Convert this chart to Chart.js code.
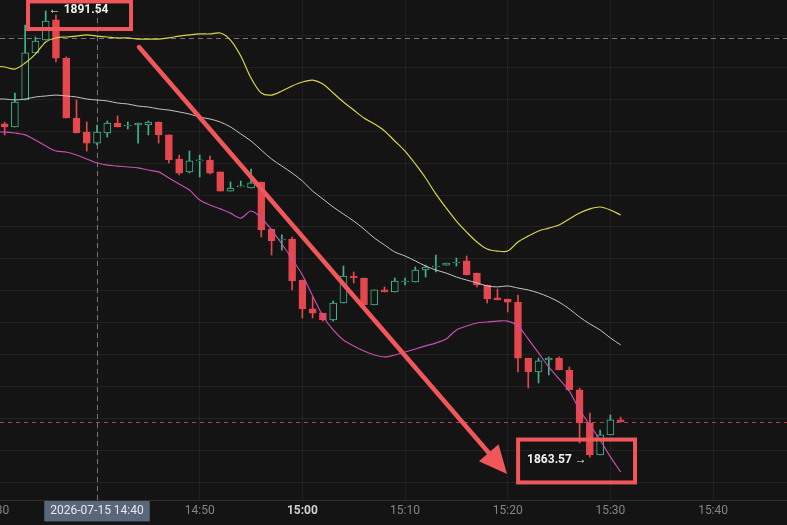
<!DOCTYPE html>
<html>
<head>
<meta charset="utf-8">
<script src="https://cdn.jsdelivr.net/npm/chart.js@4.4.1/dist/chart.umd.min.js"></script>
<style>
  html, body { margin: 0; padding: 0; background: #141414; }
  #wrap { width: 787px; height: 525px; position: relative; }
</style>
</head>
<body>
<div id="wrap"><canvas id="candleChart"></canvas></div>
<script>
// one candle per minute, x = minutes after 14:00
const minutes = [31,32,33,34,35,36,37,38,39,40,41,42,43,44,45,46,47,48,49,50,51,52,53,54,55,56,57,58,59,60,
  61,62,63,64,65,66,67,68,69,70,71,72,73,74,75,76,77,78,79,80,81,82,83,84,85,86,87,88,89,90,91];
const opens = [1884.46,1884.27,1885.96,1888.91,1889.72,1890.98,1888.59,1884.83,1883.95,1883.26,1883.89,1884.52,1884.33,1884.39,1884.39,
  1884.58,1883.77,1882.26,1881.45,1882.14,1882.20,1881.45,1880.25,1880.51,1880.44,1880.82,1877.87,1877.18,1877.24,1874.67,
  1872.86,1872.60,1872.17,1873.23,1874.92,1874.80,1873.11,1874.05,1873.92,1874.55,1874.55,1875.30,1875.49,1875.61,1875.74,
  1875.87,1875.11,1874.36,1873.55,1873.48,1873.29,1869.78,1868.91,1869.66,1869.78,1869.03,1867.78,1865.71,1863.70,1864.96,1865.90];
const highs = [1884.58,1886.40,1890.66,1889.91,1891.54,1891.29,1888.66,1885.96,1884.58,1884.39,1884.64,1884.96,1884.58,1884.52,1884.64,
  1884.58,1883.77,1882.51,1882.76,1882.51,1882.45,1881.45,1880.82,1880.88,1881.63,1880.82,1877.87,1877.50,1877.37,1874.67,
  1873.61,1872.60,1873.36,1875.55,1875.18,1874.80,1874.05,1874.24,1874.80,1874.80,1875.49,1875.61,1876.24,1875.74,1876.05,
  1876.18,1875.11,1874.36,1874.11,1873.48,1873.73,1869.78,1869.78,1869.85,1869.85,1869.22,1867.90,1866.33,1865.27,1866.21,1866.08];
const lows = [1883.77,1884.27,1885.96,1888.91,1889.72,1888.34,1884.83,1883.89,1882.76,1883.14,1883.64,1884.27,1884.14,1883.26,1883.77,
  1883.26,1882.01,1881.26,1881.38,1881.13,1881.32,1880.25,1880.25,1880.51,1880.44,1877.37,1876.24,1876.55,1874.05,1872.29,
  1872.29,1872.10,1872.10,1873.23,1874.49,1873.11,1873.11,1873.92,1873.92,1874.36,1874.55,1874.86,1875.18,1875.61,1875.55,
  1874.99,1874.24,1873.23,1873.42,1872.67,1868.91,1867.90,1868.22,1868.72,1869.03,1867.78,1864.45,1863.57,1863.70,1864.96,1865.77];
const closes = [1884.27,1885.83,1888.91,1889.66,1890.91,1888.59,1884.83,1883.89,1883.26,1883.95,1884.52,1884.27,1884.39,1884.52,1884.58,
  1883.77,1882.20,1881.38,1882.14,1882.20,1881.38,1880.25,1880.44,1880.57,1880.76,1877.81,1877.12,1877.24,1874.61,1872.86,
  1872.60,1872.17,1873.23,1874.92,1874.80,1873.11,1874.05,1873.92,1874.61,1874.61,1875.30,1875.49,1875.55,1875.74,1875.80,
  1874.99,1874.36,1873.48,1873.42,1873.29,1869.78,1868.91,1869.60,1869.78,1869.03,1867.78,1865.71,1863.70,1864.96,1865.90,1865.77];

// band lines start one minute earlier (14:30)
const bandMinutes = [30].concat(minutes);
const upperBand = [1888.09,1888.03,1887.90,1888.28,1888.84,1889.60,1889.85,1889.91,1889.97,1890.04,1889.97,1889.91,1889.85,1889.85,1889.78,
  1889.78,1889.78,1889.85,1889.97,1890.04,1890.10,1890.10,1890.16,1889.72,1888.72,1887.34,1886.40,1886.27,1886.52,1886.84,
  1887.09,1887.21,1886.96,1886.40,1885.83,1885.33,1884.83,1884.46,1884.02,1883.39,1882.76,1881.95,1881.07,1880.07,1879.19,
  1878.37,1877.68,1877.06,1876.62,1876.49,1876.49,1877.06,1877.43,1877.75,1877.93,1878.12,1878.50,1878.87,1879.13,1879.25,1879.06,1878.75];
const middleBand = [1886.02,1886.02,1885.96,1886.02,1886.15,1886.21,1886.27,1886.21,1886.15,1886.02,1885.96,1885.90,1885.77,1885.71,1885.58,
  1885.52,1885.40,1885.33,1885.21,1885.08,1884.89,1884.77,1884.58,1884.27,1883.83,1883.39,1882.82,1882.26,1881.82,1881.38,
  1880.88,1880.25,1879.75,1879.25,1878.81,1878.37,1877.87,1877.31,1876.87,1876.43,1876.18,1875.87,1875.55,1875.30,1875.11,
  1874.86,1874.67,1874.49,1874.30,1874.24,1874.30,1874.17,1874.05,1873.86,1873.61,1873.29,1872.86,1872.35,1871.92,1871.54,1871.04,1870.60];
const lowerBand = [1883.95,1883.95,1883.89,1883.77,1883.45,1883.08,1882.76,1882.70,1882.51,1882.26,1882.01,1881.88,1881.82,1881.76,1881.70,
  1881.57,1881.45,1881.07,1880.69,1880.32,1879.69,1879.38,1879.13,1878.87,1878.56,1879.00,1878.56,1877.81,1876.93,1875.99,
  1874.99,1873.67,1872.42,1871.54,1870.91,1870.54,1870.22,1869.97,1869.85,1869.97,1870.16,1870.35,1870.54,1870.72,1870.97,
  1871.54,1871.79,1871.98,1872.04,1872.10,1872.10,1871.79,1870.97,1870.10,1869.22,1868.47,1867.71,1866.52,1865.58,1864.64,1863.58,1862.64];

const timeTicks = [30, 40, 50, 60, 70, 80, 90, 100];
const priceGrid = [1862, 1864, 1866, 1868, 1870, 1872, 1874, 1876, 1878, 1880, 1882, 1884, 1886, 1888, 1890];
const crosshair = { minute: 40, price: 1889.85, label: '2026-07-15 14:40' };
const lastPrice = 1865.77;
const highMark = { minute: 35, price: 1891.54 };
const lowMark = { minute: 88, price: 1863.57 };
// hand drawn annotations, in minute / price coordinates
const trendArrow = { from: [44.09, 1889.28], to: [79.93, 1862.51] };
const highBox = [33.28, 1892.14, 43.31, 1890.41];
const lowBox = [81.01, 1864.67, 92.40, 1861.98];

const BG = '#141414';
const UP = '#3fb68b';
const DOWN = '#e4474e';
const MARK = '#f0575a';

const isUp = minutes.map((m, i) => closes[i] >= opens[i]);

function timeLabel(v) {
    if (v === crosshair.minute) return crosshair.label;
    const h = 14 + Math.floor(v / 60);
    const m = v % 60;
    return h + ':' + String(m).padStart(2, '0');
}

const overlayPlugin = {
    id: 'overlay',
    beforeDraw(chart) {
        const c = chart.ctx;
        c.save();
        c.fillStyle = BG;
        c.fillRect(0, 0, chart.width, chart.height);
        c.restore();
    },
    beforeDatasetsDraw(chart) {
        const c = chart.ctx, xs = chart.scales.x, ys = chart.scales.y, a = chart.chartArea;
        c.save();
        c.lineWidth = 1;
        // crosshair
        c.strokeStyle = 'rgba(150,150,150,0.75)';
        c.setLineDash([5, 4]);
        const cx = Math.round(xs.getPixelForValue(crosshair.minute)) + 0.5;
        const cy = Math.round(ys.getPixelForValue(crosshair.price)) + 0.5;
        c.beginPath();
        c.moveTo(cx, a.top); c.lineTo(cx, a.bottom);
        c.moveTo(a.left, cy); c.lineTo(a.right, cy);
        c.stroke();
        // last price line
        c.strokeStyle = 'rgba(228,71,78,0.8)';
        c.setLineDash([4, 4]);
        const ly = Math.round(ys.getPixelForValue(lastPrice)) + 0.5;
        c.beginPath();
        c.moveTo(a.left, ly); c.lineTo(a.right, ly);
        c.stroke();
        c.restore();
    },
    afterDraw(chart) {
        const c = chart.ctx, xs = chart.scales.x, ys = chart.scales.y;
        const px = v => xs.getPixelForValue(v);
        const py = v => ys.getPixelForValue(v);
        c.save();

        // high / low labels
        c.fillStyle = '#f2f2f2';
        c.font = 'bold 12px Roboto';
        c.textBaseline = 'middle';
        c.textAlign = 'left';
        c.fillText('\u2190 ' + highMark.price.toFixed(2), px(highMark.minute) + 3, py(highMark.price) - 1);
        c.textAlign = 'right';
        c.fillText(lowMark.price.toFixed(2) + ' \u2192', px(lowMark.minute) - 3, py(lowMark.price) + 3);

        // boxes
        c.strokeStyle = MARK;
        c.lineWidth = 4;
        [highBox, lowBox].forEach(b => {
            const x1 = px(b[0]), y1 = py(b[1]), x2 = px(b[2]), y2 = py(b[3]);
            c.strokeRect(x1, y1, x2 - x1, y2 - y1);
        });

        // arrow
        const x1 = px(trendArrow.from[0]), y1 = py(trendArrow.from[1]);
        const x2 = px(trendArrow.to[0]), y2 = py(trendArrow.to[1]);
        const ang = Math.atan2(y2 - y1, x2 - x1);
        const headLen = 28, headW = 13;
        const bx = x2 - headLen * Math.cos(ang), by = y2 - headLen * Math.sin(ang);
        c.lineWidth = 4.5;
        c.lineCap = 'round';
        c.beginPath();
        c.moveTo(x1, y1); c.lineTo(bx, by);
        c.stroke();
        c.fillStyle = MARK;
        c.beginPath();
        c.moveTo(x2, y2);
        c.lineTo(bx + headW * Math.sin(ang), by - headW * Math.cos(ang));
        c.lineTo(bx - headW * Math.sin(ang), by + headW * Math.cos(ang));
        c.closePath();
        c.fill();
        c.restore();
    }
};

function lineSet(label, values, color, width) {
    return {
        type: 'line', label: label,
        data: bandMinutes.map((m, i) => ({ x: m, y: values[i] })),
        borderColor: color, borderWidth: width, pointRadius: 0,
        tension: 0.3, fill: false, order: 0
    };
}

const ctx = document.getElementById('candleChart').getContext('2d');
new Chart(ctx, {
    type: 'bar',
    data: {
        datasets: [
            lineSet('upper', upperBand, '#d6d64c', 1.2),
            lineSet('middle', middleBand, '#c4c4c4', 1),
            lineSet('lower', lowerBand, '#c64fae', 1.2),
            {
                label: 'body',
                data: minutes.map((m, i) => ({ x: m, y: [opens[i], closes[i]] })),
                backgroundColor: isUp.map(u => u ? BG : DOWN),
                borderColor: isUp.map(u => u ? UP : DOWN),
                borderWidth: 1, borderSkipped: false,
                barThickness: 7, grouped: false, minBarLength: 1, order: 1
            },
            {
                label: 'wick',
                data: minutes.map((m, i) => ({ x: m, y: [lows[i], highs[i]] })),
                backgroundColor: isUp.map(u => u ? UP : DOWN),
                borderWidth: 0,
                barThickness: 1, grouped: false, order: 2
            }
        ]
    },
    options: {
        responsive: true, maintainAspectRatio: false, animation: false,
        layout: { padding: 0 },
        plugins: { legend: { display: false }, tooltip: { enabled: false } },
        scales: {
            x: {
                type: 'linear', min: 30.55, max: 107.2, offset: false, bounds: 'data',
                afterBuildTicks: s => { s.ticks = timeTicks.map(v => ({ value: v })); },
                afterFit: s => { s.height = 25; s.paddingLeft = 0; s.paddingRight = 0; },
                grid: { color: 'rgba(255,255,255,0.06)', drawTicks: false, offset: false },
                border: { color: 'rgba(255,255,255,0.12)' },
                ticks: {
                    autoSkip: false, maxRotation: 0, padding: 4,
                    callback: v => timeLabel(v),
                    font: c => ({ family: 'Roboto', size: 12, weight: c.tick && c.tick.value === 60 ? 'bold' : 'normal' }),
                    color: c => c.tick && c.tick.value === crosshair.minute ? '#e8e8e8' : (c.tick && c.tick.value === 60 ? '#cfcfcf' : '#858585'),
                    showLabelBackdrop: c => !!(c.tick && c.tick.value === crosshair.minute),
                    backdropColor: '#59677b',
                    backdropPadding: { left: 6, right: 6, top: 3, bottom: 3 }
                }
            },
            y: {
                type: 'linear', min: 1860.88, max: 1892.23,
                afterBuildTicks: s => { s.ticks = priceGrid.map(v => ({ value: v })); },
                afterFit: s => { s.width = 0; s.paddingTop = 0; s.paddingBottom = 0; },
                grid: { color: 'rgba(255,255,255,0.06)', drawTicks: false },
                border: { display: false },
                ticks: { display: false }
            }
        }
    },
    plugins: [overlayPlugin]
});
</script>
</body>
</html>
